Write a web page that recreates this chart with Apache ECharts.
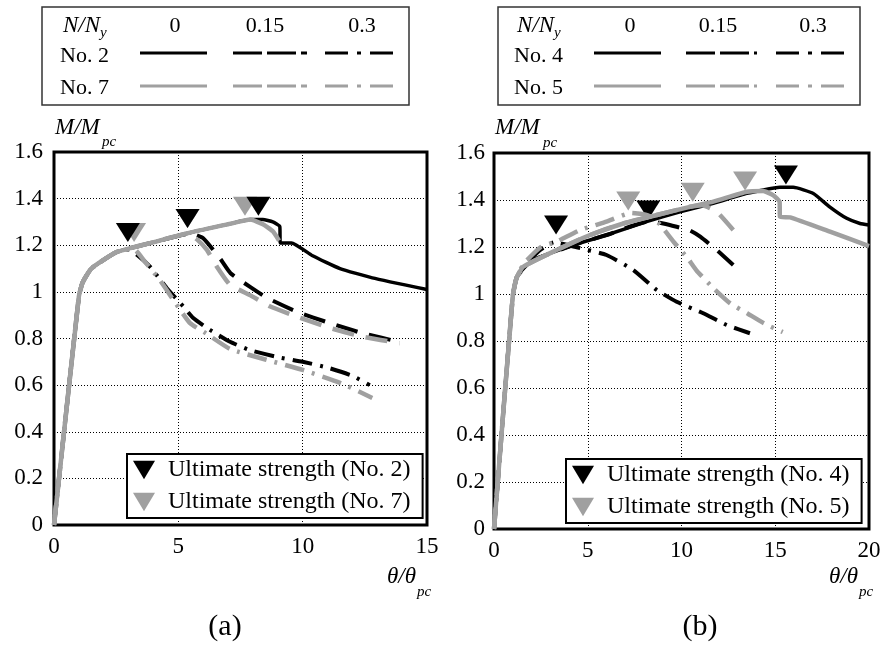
<!DOCTYPE html>
<html>
<head>
<meta charset="utf-8">
<script src="https://cdn.jsdelivr.net/npm/echarts@6/dist/echarts.min.js"></script>
<style>
html,body{margin:0;padding:0;background:#fff}
#chart{width:884px;height:653px}
</style>
</head>
<body>
<div id="chart"></div>
<script>
// ---- (a) No.2 (black) / No.7 (gray), [theta/theta_pc, M/M_pc]
var a_no2_n0 = [[0,0],[1.0,0.98],[1.15,1.04],[1.5,1.10],[2.5,1.17],[3.9,1.21],[5.5,1.255],[7,1.29],[7.9,1.31],[8.4,1.31],[8.8,1.30],[9.08,1.28],[9.1,1.21],[9.55,1.21],[10.4,1.155],[11.5,1.10],[12.8,1.06],[15,1.01]];
var a_no2_n015 = [[0,0],[1.0,0.98],[1.15,1.04],[1.5,1.10],[2.5,1.17],[3.9,1.21],[5.5,1.25],[6.0,1.23],[6.7,1.14],[7.1,1.08],[7.9,1.02],[8.55,0.975],[9.76,0.915],[11.1,0.866],[12.4,0.823],[13.9,0.785]];
var a_no2_n03 = [[0,0],[1.0,0.98],[1.15,1.04],[1.5,1.10],[2.5,1.17],[3.0,1.18],[3.33,1.16],[3.86,1.108],[4.53,1.017],[5.2,0.937],[5.6,0.888],[6.27,0.837],[7.08,0.786],[7.88,0.75],[9.0,0.72],[10.0,0.70],[11.0,0.675],[12.0,0.64],[12.7,0.60]];
var a_no7_n0 = [[0,0],[1.0,0.98],[1.15,1.04],[1.5,1.10],[2.5,1.17],[3.9,1.21],[5.5,1.255],[7,1.29],[7.9,1.31],[8.4,1.29],[8.8,1.26],[9.05,1.22]];
var a_no7_n015 = [[0,0],[1.0,0.98],[1.15,1.04],[1.5,1.10],[2.5,1.17],[3.9,1.21],[5.4,1.25],[5.75,1.225],[6.15,1.18],[6.55,1.108],[7.08,1.03],[7.9,0.985],[8.7,0.937],[9.76,0.894],[11.1,0.845],[12.4,0.808],[13.9,0.78]];
var a_no7_n03 = [[0,0],[1.0,0.98],[1.15,1.04],[1.5,1.10],[2.5,1.17],[3.2,1.185],[3.6,1.137],[4.26,1.05],[4.9,0.95],[5.47,0.866],[6.1,0.823],[7.08,0.755],[8.5,0.71],[10,0.665],[11.5,0.61],[12.8,0.545]];
var a_ult_no2 = [[2.97,1.255],[5.37,1.315],[8.22,1.367]];
var a_ult_no7 = [[3.22,1.255],[5.37,1.315],[7.68,1.367]];

// ---- (b) No.4 (black) / No.5 (gray)
var b_no4_n0 = [[0,0],[1.0,0.99],[1.21,1.07],[1.6,1.11],[2.1,1.145],[4.23,1.208],[6.0,1.251],[8.14,1.308],[9.92,1.35],[11.7,1.386],[13.48,1.428],[15.25,1.454],[15.96,1.454],[17.03,1.428],[17.9,1.371],[18.81,1.322],[19.52,1.30],[20,1.294]];
var b_no4_n015 = [[0,0],[1.0,0.99],[1.21,1.07],[1.6,1.11],[2.1,1.145],[4.23,1.208],[6.0,1.251],[8.3,1.31],[9.03,1.30],[9.74,1.286],[10.45,1.27],[11.0,1.244],[11.88,1.187],[12.76,1.123]];
var b_no4_n03 = [[0,0],[1.0,0.99],[1.21,1.07],[1.6,1.12],[2.5,1.19],[3.2,1.22],[4.41,1.199],[6.0,1.166],[7.43,1.102],[8.68,1.017],[9.74,0.967],[11.16,0.918],[12.41,0.868],[13.65,0.833]];
var b_no5_n0 = [[0,0],[1.0,0.99],[1.21,1.07],[1.56,1.116],[3.34,1.187],[5.12,1.251],[6.9,1.30],[8.68,1.336],[10.45,1.371],[11.7,1.393],[13.48,1.435],[14.36,1.438],[14.9,1.42],[15.23,1.393],[15.25,1.329],[15.8,1.326],[17.92,1.265],[20,1.204]];
var b_no5_n015 = [[0,0],[1.0,0.99],[1.21,1.07],[1.56,1.116],[3.34,1.187],[5.12,1.251],[6.9,1.30],[8.68,1.336],[10.45,1.371],[11.1,1.378],[11.88,1.35],[12.76,1.272]];
var b_no5_n03 = [[0,0],[1.0,0.99],[1.21,1.07],[1.6,1.13],[2.5,1.20],[3.34,1.223],[4.59,1.272],[6.0,1.308],[7.3,1.345],[8.2,1.335],[8.8,1.30],[9.6,1.22],[10.3,1.155],[10.8,1.10],[11.7,1.025],[12.6,0.96],[13.5,0.918],[14.4,0.875],[15.4,0.838]];
var b_ult_no4 = [[3.31,1.294],[8.23,1.357],[15.57,1.506]];
var b_ult_no5 = [[7.16,1.396],[10.6,1.433],[13.39,1.481]];

// axis ranges / table text
var xMaxA = 15, xMaxB = 20, xStep = 5, yMax = 1.6, yStep = 0.2;
var tableCols = ['0', '0.15', '0.3'];
var rowsA = ['No. 2', 'No. 7'];
var rowsB = ['No. 4', 'No. 5'];
var ultNamesA = ['Ultimate strength (No. 2)', 'Ultimate strength (No. 7)'];
var ultNamesB = ['Ultimate strength (No. 4)', 'Ultimate strength (No. 5)'];

var FONT = '"Liberation Serif", "Times New Roman", serif';
var BLACK = '#000', GRAY = '#a0a0a0';
var DASH = [22, 12], DASHDOT = [20, 8, 3, 8];
var TRI = 'path://M0,0L20,0L10,17Z';

function line(name, data, idx, color, width, dash) {
  return {
    name: name, type: 'line', xAxisIndex: idx, yAxisIndex: idx,
    data: data, symbol: 'none', smooth: 0.15, silent: true,
    lineStyle: {color: color, width: width, type: dash, cap: 'butt', join: 'round'}
  };
}
function tri(name, data, idx, color) {
  return {
    name: name, type: 'scatter', xAxisIndex: idx, yAxisIndex: idx,
    data: data, symbol: TRI, symbolSize: [24, 19], silent: true,
    itemStyle: {color: color, opacity: 1}
  };
}
function xAxis(idx, max) {
  return {
    type: 'value', gridIndex: idx, min: 0, max: max, interval: xStep,
    axisLine: {show: false}, axisTick: {show: false},
    axisLabel: {color: '#000', fontFamily: FONT, fontSize: 23, margin: 10},
    splitLine: {show: true, lineStyle: {color: '#000', width: 1, type: [1, 2]}}
  };
}
function yAxis(idx, margin) {
  return {
    type: 'value', gridIndex: idx, min: 0, max: yMax, interval: yStep,
    axisLine: {show: false}, axisTick: {show: false},
    axisLabel: {color: '#000', fontFamily: FONT, fontSize: 23, margin: margin},
    splitLine: {show: true, lineStyle: {color: '#000', width: 1, type: [1, 2]}}
  };
}
function ultLegend(names, left, top) {
  return {
    data: [{name: names[0], icon: TRI, itemStyle: {color: BLACK, opacity: 1}},
           {name: names[1], icon: TRI, itemStyle: {color: GRAY, opacity: 1}}],
    orient: 'vertical', left: left, top: top, itemWidth: 22, itemHeight: 19, itemGap: 8,
    padding: [4, 12, 4, 6], selectedMode: false,
    borderColor: '#000', borderWidth: 2, backgroundColor: '#fff',
    textStyle: {color: '#000', fontFamily: FONT, fontSize: 24, padding: [0, 0, 0, 8]}
  };
}
function text(str, x, y, size, opts) {
  opts = opts || {};
  return {
    type: 'text', x: x, y: y, z: 10,
    style: {text: str, fill: '#000', font: (opts.italic ? 'italic ' : '') + size + 'px ' + FONT,
            align: opts.align || 'left', verticalAlign: 'middle'}
  };
}
function seg(x1, x2, y, color, width, dash) {
  return {type: 'line', z: 10, shape: {x1: x1, y1: y, x2: x2, y2: y},
          style: {stroke: color, lineWidth: width, lineDash: dash || null}};
}
function table(box, nx, cols, rows, lineX) {
  var g = [{type: 'rect', z: 9, shape: {x: box[0], y: box[1], width: box[2] - box[0], height: box[3] - box[1]},
            style: {fill: '#fff', stroke: '#333', lineWidth: 1.5}}];
  g.push(text('N/N', nx, 26, 23, {italic: true}));
  g.push(text('y', nx + 37, 33, 15, {italic: true}));
  for (var i = 0; i < cols.length; i++) g.push(text(cols[i], cols.cx[i], 26, 22, {align: 'center'}));
  var rowY = [55, 87], colors = [BLACK, GRAY], widths = [3, 2.8];
  for (var r = 0; r < rows.length; r++) {
    g.push(text(rows[r], nx - 3, rowY[r] + 1, 22));
    var ly = [53, 86][r];
    g.push(seg(lineX[0], lineX[1], ly, colors[r], widths[r]));
    g.push(seg(lineX[2], lineX[3], ly, colors[r], widths[r], [29, 5]));
    g.push(seg(lineX[4], lineX[5], ly, colors[r], widths[r], [23, 9, 4, 9]));
  }
  return g;
}

var colsA = tableCols.slice(); colsA.cx = [175, 265, 362];
var colsB = tableCols.slice(); colsB.cx = [630, 718, 813];

var graphic = []
  .concat(table([42, 7, 409, 105], 63, colsA, rowsA, [140, 207, 233, 307, 325, 398]))
  .concat(table([498, 7, 860, 105], 517, colsB, rowsB, [594, 661, 686, 757, 776, 849]))
  .concat([
    text('M/M', 55, 128, 23, {italic: true}), text('pc', 102, 142, 15, {italic: true}),
    text('M/M', 495, 128, 23, {italic: true}), text('pc', 543, 143, 15, {italic: true}),
    text('\u03b8/\u03b8', 387, 577, 23, {italic: true}), text('pc', 417, 592, 15, {italic: true}),
    text('\u03b8/\u03b8', 829, 577, 23, {italic: true}), text('pc', 859, 592, 15, {italic: true}),
    text('(a)', 225, 627, 30, {align: 'center'}),
    text('(b)', 700, 627, 30, {align: 'center'})
  ]);

var chart = echarts.init(document.getElementById('chart'), null, {renderer: 'canvas'});
chart.setOption({
  animation: false,
  backgroundColor: '#fff',
  grid: [
    {left: 54, right: 884 - 427, top: 152, bottom: 653 - 525, show: true, borderColor: '#000', borderWidth: 3, backgroundColor: 'transparent'},
    {left: 494, right: 884 - 869, top: 153, bottom: 653 - 529, show: true, borderColor: '#000', borderWidth: 3, backgroundColor: 'transparent'}
  ],
  xAxis: [xAxis(0, xMaxA), xAxis(1, xMaxB)],
  yAxis: [yAxis(0, 11), yAxis(1, 9)],
  legend: [ultLegend(ultNamesA, 127, 454), ultLegend(ultNamesB, 566, 459)],
  graphic: graphic,
  series: [
    line('a2-0', a_no2_n0, 0, BLACK, 3.5, 'solid'),
    line('a2-15', a_no2_n015, 0, BLACK, 4, DASH),
    line('a2-30', a_no2_n03, 0, BLACK, 4, DASHDOT),
    line('a7-0', a_no7_n0, 0, GRAY, 4.5, 'solid'),
    line('a7-15', a_no7_n015, 0, GRAY, 4.5, DASH),
    line('a7-30', a_no7_n03, 0, GRAY, 4.5, DASHDOT),
    tri(ultNamesA[1], a_ult_no7, 0, GRAY),
    tri(ultNamesA[0], a_ult_no2, 0, BLACK),
    line('b4-0', b_no4_n0, 1, BLACK, 3.5, 'solid'),
    line('b4-15', b_no4_n015, 1, BLACK, 4, DASH),
    line('b4-30', b_no4_n03, 1, BLACK, 4, DASHDOT),
    line('b5-0', b_no5_n0, 1, GRAY, 4.5, 'solid'),
    line('b5-15', b_no5_n015, 1, GRAY, 4.5, DASH),
    line('b5-30', b_no5_n03, 1, GRAY, 4.5, DASHDOT),
    tri(ultNamesB[1], b_ult_no5, 1, GRAY),
    tri(ultNamesB[0], b_ult_no4, 1, BLACK)
  ]
});
</script>
</body>
</html>
